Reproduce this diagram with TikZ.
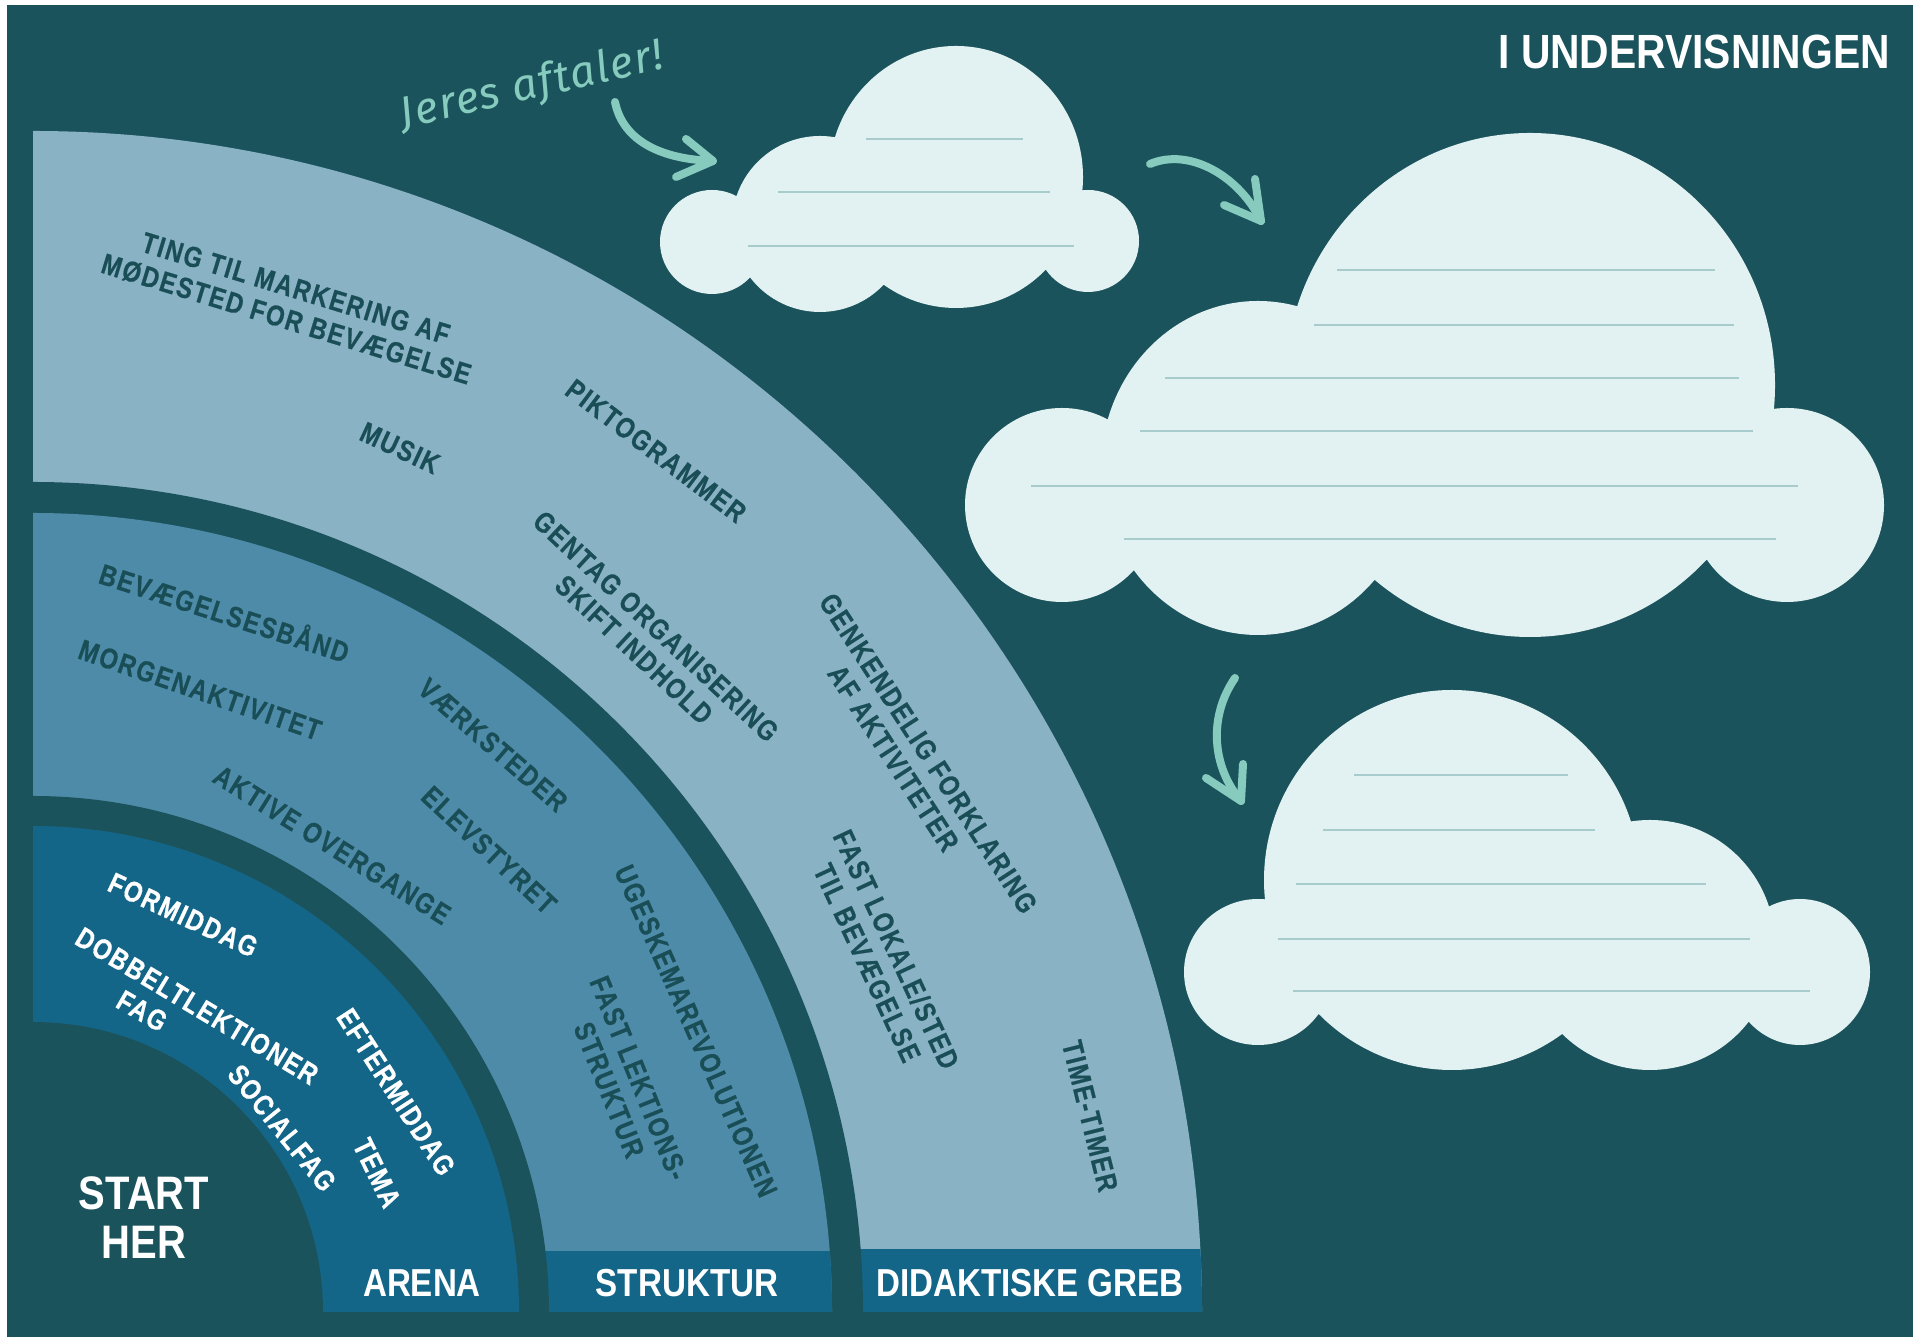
\documentclass[tikz,border=0pt]{standalone}
\usepackage{fontspec}
\setmainfont{Liberation Sans}
\newfontfamily\bigfont[FakeStretch=0.85]{Liberation Sans}
\newfontfamily\bandfont[FakeStretch=0.82,LetterSpace=6,FakeBold=0.6]{Liberation Sans}
\newfontfamily\handfont[LetterSpace=4]{Fira Sans}
\definecolor{bg}{HTML}{1B535C}
\definecolor{outerc}{HTML}{8AB2C5}
\definecolor{middlec}{HTML}{4E8BA9}
\definecolor{innerc}{HTML}{146689}
\definecolor{cloudc}{HTML}{E2F1F1}
\definecolor{cloudln}{HTML}{A8CBCB}
\definecolor{mint}{HTML}{86CBBE}
\definecolor{darktext}{HTML}{1A4E57}
\begin{document}
\begin{tikzpicture}[x=1pt,y=1pt,
  blab/.style={font={\bandfont\bfseries\fontsize{29}{32}\selectfont}, text=darktext, align=center, inner sep=0pt},
  wlab/.style={blab, text=white},
  biglab/.style={font={\bigfont\bfseries\fontsize{47}{49}\selectfont}, text=white, align=center, inner sep=0pt},
  barlab/.style={font={\bigfont\bfseries\fontsize{39}{44}\selectfont}, text=white, inner sep=0pt},
  cline/.style={draw=cloudln, line width=2pt},
  cloud/.style={fill=cloudc},
  arr/.style={draw=mint, line width=8pt, line cap=round, line join=round}]
\useasboundingbox (0,0) rectangle (1913,1337);
\fill[white] (0,0) rectangle (1913,1337);
\fill[bg] (7,0) rectangle (1913,1332);

% ---------- quarter bands ----------
\coordinate (c) at (33,25);
\begin{scope}
  \clip (33,25) rectangle (1400,1400);
  \fill[outerc] (c) ellipse [x radius=1169, y radius=1181];
  \begin{scope}
    \clip (c) ellipse [x radius=1169, y radius=1181];
    \fill[innerc] (33,25) rectangle (1400,88);
  \end{scope}
  \fill[bg] (c) circle [radius=830];
  \fill[middlec] (c) circle [radius=799];
  \begin{scope}
    \clip (c) circle [radius=799];
    \fill[innerc] (33,25) rectangle (1400,86);
  \end{scope}
  \fill[bg] (c) circle [radius=516];
  \fill[innerc] (c) circle [radius=486];
  \fill[bg] (c) circle [radius=290];
\end{scope}

% ---------- band labels ----------
\node[blab, rotate=-17] (t1) at (291,1033) {TING TIL MARKERING AF\\MØDESTED FOR BEVÆGELSE};
\node[blab, rotate=-25] (t2) at (400,889) {MUSIK};
\node[blab, rotate=-37] (t3) at (656,886) {PIKTOGRAMMER};
\node[blab, rotate=-43] (t4) at (645,699) {GENTAG ORGANISERING\\SKIFT INDHOLD};
\node[blab, rotate=-57] (t5) at (915,575) {GENKENDELIG FORKLARING\\AF AKTIVITETER\hspace*{30pt}};
\node[blab, rotate=-65] (t6) at (882,381) {FAST LOKALE/STED\\TIL BEVÆGELSE};
\node[blab, rotate=-76] (t7) at (1090,221) {TIME-TIMER};

\node[blab, rotate=-18] (m1) at (225,726) {BEVÆGELSESBÅND};
\node[blab, rotate=-19] (m2) at (200,647) {MORGENAKTIVITET};
\node[blab, rotate=-32] (m3) at (332,492) {AKTIVE OVERGANGE};
\node[blab, rotate=-41] (m4) at (493,592) {VÆRKSTEDER};
\node[blab, rotate=-43] (m5) at (489,487) {ELEVSTYRET};
\node[blab, rotate=-66] (m6) at (696,306) {UGESKEMAREVOLUTIONEN};
\node[blab, rotate=-68] (m7) at (624,253) {FAST LEKTIONS-\\STRUKTUR};

\node[wlab, rotate=-25] (i1) at (183,422) {FORMIDDAG};
\node[wlab, rotate=-31] (i2) at (197,331) {DOBBELTLEKTIONER};
\node[wlab, rotate=-30] (i3) at (142,326) {FAG};
\node[wlab, rotate=-51] (i4) at (282,209) {SOCIALFAG};
\node[wlab, rotate=-57] (i5) at (396,245) {EFTERMIDDAG};
\node[wlab, rotate=-64] (i6) at (377,164) {TEMA};

\node[biglab] (start) at (144,119) {START\\HER};

\node[barlab] (arena) at (422,54) {ARENA};
\node[barlab] (struktur) at (687,54) {STRUKTUR};
\node[barlab] (didak) at (1030,54) {DIDAKTISKE GREB};

\node[font={\bigfont\bfseries\fontsize{48}{50}\selectfont}, text=white, anchor=east, inner sep=0pt] (title) at (1890,1285) {I UNDERVISNINGEN};

% ---------- clouds ----------
\fill[cloud] (712,1095) circle [radius=52]
  (820,1113) circle [radius=88]
  (956,1160) ellipse [x radius=127, y radius=131]
  (1088,1096) circle [radius=51];
\draw[cline] (866,1198) -- (1023,1198);
\draw[cline] (778,1145) -- (1050,1145);
\draw[cline] (748,1091) -- (1074,1091);

\fill[cloud] (1530,952) ellipse [x radius=245, y radius=252]
  (1258,869) ellipse [x radius=157, y radius=167]
  (1062,832) circle [radius=97]
  (1787,832) circle [radius=97];
\draw[cline] (1337,1067) -- (1715,1067);
\draw[cline] (1314,1012) -- (1734,1012);
\draw[cline] (1165,959) -- (1739,959);
\draw[cline] (1140,906) -- (1753,906);
\draw[cline] (1031,851) -- (1798,851);
\draw[cline] (1124,798) -- (1776,798);

\fill[cloud] (1452,457) ellipse [x radius=188, y radius=190]
  (1650,392) circle [radius=125]
  (1258,365) ellipse [x radius=74, y radius=73]
  (1800,365) ellipse [x radius=70, y radius=73];
\draw[cline] (1354,562) -- (1568,562);
\draw[cline] (1323,507) -- (1595,507);
\draw[cline] (1296,453) -- (1706,453);
\draw[cline] (1278,398) -- (1750,398);
\draw[cline] (1293,346) -- (1810,346);

% ---------- arrows and note ----------
\node[font={\handfont\itshape\fontsize{44}{46}\selectfont}, text=mint, rotate=13, inner sep=0pt] (note) at (532,1250) {Jeres aftaler!};

\coordinate (a1s) at (615,1235); \coordinate (a1t) at (713,1176);
\draw[arr] (a1s) .. controls (622,1200) and (655,1178) .. (a1t);
\draw[arr] (686,1198) -- (a1t) -- (676,1160);

\coordinate (a2s) at (1150,1173); \coordinate (a2t) at (1261,1116);
\draw[arr] (a2s) .. controls (1190,1190) and (1240,1160) .. (a2t);
\draw[arr] (1255,1158) -- (a2t) -- (1224,1132);

\coordinate (a3s) at (1235,659); \coordinate (a3t) at (1241,536);
\draw[arr] (a3s) .. controls (1208,620) and (1212,570) .. (a3t);
\draw[arr] (1243,573) -- (a3t) -- (1206,559);
\end{tikzpicture}
\end{document}
